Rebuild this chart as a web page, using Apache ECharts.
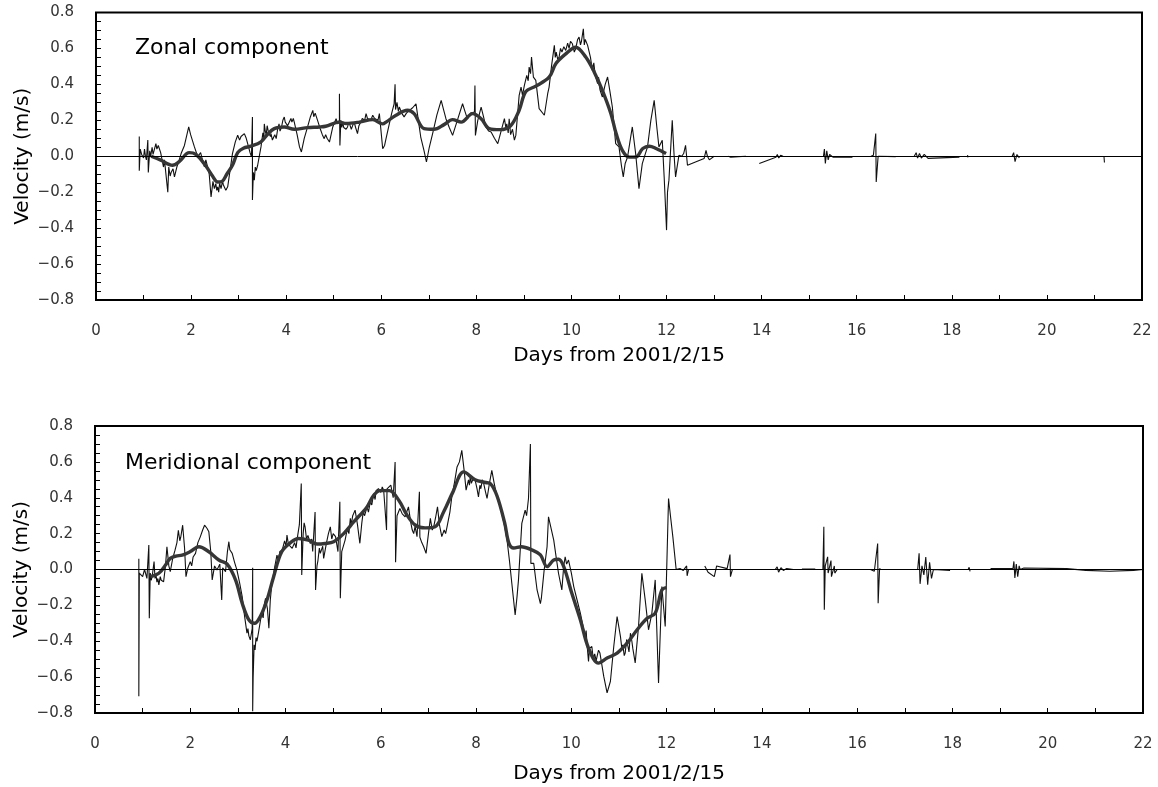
<!DOCTYPE html>
<html>
<head>
<meta charset="utf-8">
<title>Drifter velocity components</title>
<script src="https://cdn.jsdelivr.net/npm/echarts@6/dist/echarts.min.js"></script>
<style>
  html, body { margin: 0; padding: 0; background: #fff; }
  #chart { width: 1158px; height: 787px; }
</style>
</head>
<body>
<div id="chart"></div>
<script>
// Panel labels and axis titles
const panelTitles = ['Zonal component', 'Meridional component'];
const xAxisTitle = 'Days from 2001/2/15';
const yAxisTitle = 'Velocity (m/s)';

// Zonal velocity, raw record [day, m/s]; null marks a gap in the record
const zonalRaw = [
  [0.91,0.11],[0.91,-0.08],[0.93,0.04],[0.96,0.01],[0.98,0.02],[1.00,-0.01],[1.02,0.04],[1.04,0.0],[1.06,-0.02],[1.09,0.09],[1.10,-0.09],
  [1.13,0.03],[1.15,0.0],[1.18,0.05],[1.20,0.01],[1.22,0.02],[1.26,0.07],[1.28,0.04],[1.31,0.06],[1.36,0.02],[1.39,-0.02],[1.42,-0.06],[1.44,-0.02],[1.46,-0.03],
  [1.51,-0.20],[1.53,-0.06],[1.56,-0.11],[1.58,-0.09],[1.62,-0.07],[1.65,-0.115],[1.70,-0.06],[1.74,-0.03],[1.79,0.015],[1.86,0.06],
  [1.95,0.163],[1.99,0.12],[2.07,0.052],[2.14,-0.003],[2.20,0.02],[2.24,-0.02],[2.28,-0.059],[2.31,-0.02],[2.34,-0.03],[2.38,-0.096],
  [2.42,-0.226],[2.46,-0.14],[2.49,-0.18],[2.52,-0.152],[2.54,-0.19],[2.56,-0.17],[2.58,-0.20],[2.60,-0.15],[2.63,-0.18],[2.66,-0.14],[2.68,-0.16],[2.71,-0.15],[2.73,-0.189],
  [2.77,-0.17],[2.80,-0.115],[2.87,0.015],[2.93,0.08],[2.98,0.117],[3.02,0.09],[3.05,0.11],[3.09,0.12],[3.12,0.126],[3.16,0.10],
  [3.19,0.07],[3.24,0.02],[3.27,-0.003],[3.29,0.218],[3.29,-0.244],[3.31,-0.09],[3.33,-0.133],[3.35,-0.06],[3.37,-0.08],
  [3.40,-0.05],[3.47,0.052],[3.51,0.13],[3.53,0.10],[3.54,0.18],[3.56,0.14],[3.58,0.12],[3.60,0.17],[3.61,0.163],[3.63,0.13],
  [3.65,0.14],[3.67,0.11],[3.68,0.126],[3.71,0.09],[3.73,0.10],[3.76,0.12],[3.79,0.098],[3.82,0.15],[3.85,0.18],[3.87,0.14],
  [3.90,0.16],[3.93,0.20],[3.96,0.218],[3.98,0.19],[4.00,0.20],[4.03,0.17],[4.07,0.18],[4.10,0.21],[4.12,0.19],[4.15,0.21],[4.17,0.19],
  [4.23,0.12],[4.28,0.052],[4.32,0.024],[4.38,0.10],[4.45,0.163],[4.51,0.22],[4.56,0.255],[4.58,0.22],[4.61,0.24],
  [4.66,0.20],[4.72,0.15],[4.76,0.12],[4.80,0.098],[4.83,0.12],[4.86,0.10],[4.91,0.079],[4.98,0.163],[5.02,0.19],[5.05,0.209],[5.08,0.18],[5.12,0.20],
  [5.12,0.348],[5.13,0.06],[5.15,0.20],[5.17,0.16],[5.19,0.19],[5.21,0.16],[5.24,0.17],[5.26,0.15],[5.29,0.163],[5.32,0.19],[5.35,0.18],[5.37,0.15],[5.40,0.172],[5.43,0.19],[5.46,0.16],
  [5.50,0.126],[5.53,0.17],[5.57,0.19],[5.60,0.21],[5.62,0.22],[5.65,0.20],[5.68,0.237],[5.71,0.21],[5.75,0.22],[5.78,0.20],[5.82,0.228],[5.86,0.21],[5.89,0.22],[5.93,0.20],[5.96,0.237],
  [6.03,0.042],[6.07,0.06],[6.10,0.098],[6.17,0.181],[6.22,0.24],[6.27,0.292],[6.29,0.40],[6.30,0.26],
  [6.33,0.30],[6.36,0.25],[6.38,0.274],[6.43,0.24],[6.48,0.219],[6.53,0.24],[6.59,0.255],[6.66,0.27],[6.73,0.292],[6.78,0.20],
  [6.83,0.107],[6.90,0.03],[6.95,-0.032],[7.01,0.05],[7.08,0.126],[7.17,0.23],[7.26,0.311],[7.31,0.26],
  [7.36,0.209],[7.43,0.16],[7.50,0.116],[7.60,0.20],[7.71,0.292],[7.76,0.25],[7.81,0.209],[7.88,0.24],
  [7.96,0.246],[7.97,0.394],[7.98,0.116],[8.03,0.20],[8.10,0.274],[8.15,0.22],[8.20,0.163],[8.26,0.14],
  [8.31,0.135],[8.38,0.10],[8.45,0.07],[8.52,0.14],[8.59,0.209],[8.62,0.16],[8.64,0.18],[8.67,0.13],[8.69,0.209],[8.72,0.12],[8.76,0.15],
  [8.80,0.09],[8.83,0.116],[8.90,0.339],[8.94,0.385],[8.97,0.34],[9.01,0.394],[9.06,0.45],[9.09,0.42],[9.11,0.496],[9.14,0.46],[9.16,0.552],[9.20,0.44],
  [9.25,0.422],[9.32,0.265],[9.36,0.274],[9.43,0.228],[9.46,0.228],[9.50,0.348],[9.53,0.385],[9.58,0.50],
  [9.64,0.617],[9.66,0.55],[9.68,0.58],[9.71,0.54],[9.74,0.552],[9.77,0.60],[9.80,0.58],[9.84,0.61],[9.88,0.589],[9.92,0.63],[9.95,0.60],[9.98,0.64],[10.02,0.626],[10.06,0.58],[10.09,0.60],
  [10.13,0.65],[10.16,0.663],[10.19,0.62],[10.21,0.64],[10.25,0.709],[10.27,0.62],[10.29,0.65],[10.34,0.617],[10.40,0.55],[10.44,0.478],[10.47,0.52],[10.50,0.45],
  [10.55,0.404],[10.57,0.44],[10.60,0.37],[10.65,0.33],[10.71,0.40],[10.76,0.441],[10.81,0.36],[10.86,0.274],[10.93,0.07],
  [11.00,0.052],[11.05,-0.05],[11.09,-0.115],[11.13,-0.04],[11.18,-0.004],[11.23,0.08],[11.28,0.163],[11.35,0.015],
  [11.42,-0.18],[11.49,-0.041],[11.55,0.01],[11.60,0.052],[11.67,0.20],[11.74,0.311],[11.80,0.15],[11.84,0.052],
  [11.91,0.089],[11.95,-0.115],[12.00,-0.411],[12.02,-0.20],[12.05,-0.133],[12.12,0.20],[12.16,0.0],[12.19,-0.115],
  [12.26,0.005],[12.32,0.0],[12.36,0.015],[12.40,0.061],[12.44,-0.05],[12.46,-0.054],[12.79,-0.013],[12.83,0.033],
  [12.86,0.0],[12.90,-0.02],[13.00,0.0],[13.15,null],
  [13.30,0.0],[13.32,0.006],[13.35,-0.005],[13.67,0.0],[13.80,null],
  [13.95,-0.04],[14.30,-0.005],[14.33,0.01],[14.36,-0.01],[14.40,0.005],[14.45,0.0],[14.90,null],
  [15.30,0.0],[15.32,0.04],[15.34,-0.04],[15.37,0.03],[15.40,-0.02],[15.43,0.01],[15.50,-0.005],[15.91,-0.005],[16.10,null],
  [16.30,0.0],[16.35,0.005],[16.40,0.126],[16.41,-0.143],[16.45,0.0],[16.82,-0.002],[17.00,null],
  [17.21,0.0],[17.25,0.02],[17.28,-0.01],[17.32,0.015],[17.36,-0.01],[17.42,0.01],[17.50,-0.012],[18.16,-0.005],[18.25,null],
  [18.33,0.006],[18.34,-0.006],[18.80,null],
  [19.27,0.0],[19.30,0.02],[19.33,-0.03],[19.37,0.01],[19.42,-0.01],[20.00,null],
  [21.20,0.0],[21.21,-0.035]
];

// Zonal velocity, low-pass filtered [day, m/s]
const zonalFiltered = [
  [1.16,0.0],[1.35,-0.02],[1.61,-0.05],[1.75,-0.03],[1.96,0.02],[2.10,0.01],[2.30,-0.05],[2.45,-0.11],
  [2.56,-0.143],[2.65,-0.14],[2.75,-0.10],[2.87,-0.05],[2.98,0.02],[3.10,0.045],[3.26,0.056],[3.47,0.08],
  [3.60,0.12],[3.75,0.154],[3.96,0.163],[4.17,0.15],[4.45,0.159],[4.70,0.163],[4.83,0.167],[5.12,0.19],
  [5.26,0.182],[5.54,0.19],[5.82,0.204],[6.03,0.18],[6.10,0.19],[6.31,0.228],[6.55,0.256],[6.69,0.237],
  [6.90,0.154],[7.11,0.15],[7.32,0.176],[7.50,0.204],[7.68,0.19],[7.92,0.237],[8.10,0.209],[8.27,0.154],
  [8.50,0.148],[8.72,0.17],[8.90,0.256],[9.04,0.36],[9.25,0.39],[9.53,0.44],[9.67,0.515],[9.88,0.57],
  [10.09,0.607],[10.30,0.552],[10.48,0.468],[10.65,0.367],[10.83,0.237],[10.94,0.126],[11.07,0.033],[11.22,-0.005],
  [11.36,-0.004],[11.50,0.043],[11.64,0.056],[11.78,0.043],[11.99,0.015]
];

// Meridional velocity, raw record [day, m/s]; null marks a gap in the record
const meridionalRaw = [
  [0.92,0.06],[0.92,-0.707],[0.93,-0.02],[0.97,-0.01],[1.00,-0.04],[1.02,-0.03],[1.04,0.0],[1.06,-0.01],[1.09,-0.05],[1.13,0.136],[1.14,-0.272],
  [1.16,-0.02],[1.18,-0.06],[1.20,-0.04],[1.24,0.044],[1.26,-0.05],[1.28,-0.03],[1.30,-0.07],[1.32,-0.05],[1.34,-0.086],[1.37,-0.04],[1.39,-0.06],[1.44,-0.068],
  [1.48,0.02],[1.51,0.127],[1.55,0.02],[1.58,-0.012],[1.63,0.06],[1.68,0.108],[1.72,0.15],[1.75,0.219],[1.78,0.16],[1.80,0.18],
  [1.84,0.247],[1.88,0.12],[1.91,-0.04],[1.95,0.01],[2.00,0.044],[2.03,0.02],[2.06,0.07],[2.11,0.09],[2.16,0.15],
  [2.21,0.182],[2.26,0.22],[2.30,0.247],[2.35,0.23],[2.39,0.21],[2.43,0.10],[2.46,-0.058],[2.51,0.02],
  [2.56,-0.003],[2.62,0.03],[2.66,-0.17],[2.68,0.01],[2.74,-0.012],[2.78,0.10],[2.81,0.155],[2.83,0.11],[2.85,0.12],
  [2.88,0.09],[2.93,0.04],[2.98,-0.003],[3.04,-0.08],[3.09,-0.151],[3.14,-0.26],[3.19,-0.355],[3.21,-0.33],[3.23,-0.37],
  [3.26,-0.392],[3.30,-0.33],[3.31,0.01],[3.31,-0.79],[3.32,-0.60],[3.34,-0.42],[3.36,-0.448],[3.38,-0.38],[3.40,-0.40],[3.43,-0.355],
  [3.47,-0.29],[3.50,-0.244],[3.53,-0.27],[3.55,-0.20],[3.58,-0.161],[3.62,-0.22],[3.65,-0.327],[3.68,-0.17],[3.71,-0.086],
  [3.77,0.01],[3.82,0.08],[3.85,0.05],[3.88,0.10],[3.93,0.108],[3.98,0.16],[4.01,0.13],[4.03,0.192],[4.06,0.14],[4.09,0.15],[4.14,0.118],
  [4.19,0.15],[4.22,0.12],[4.24,0.164],[4.29,0.25],[4.33,0.479],[4.34,-0.031],[4.37,0.20],[4.39,0.26],[4.41,0.238],[4.44,0.17],[4.47,0.19],
  [4.52,0.145],[4.55,0.17],[4.57,0.10],[4.62,0.321],[4.63,-0.114],[4.66,0.02],[4.68,0.05],[4.71,0.12],[4.73,0.09],[4.78,0.13],[4.80,0.062],
  [4.86,0.15],[4.90,0.20],[4.94,0.238],[4.97,0.17],[5.00,0.20],[5.05,0.183],[5.10,0.10],[5.14,0.377],[5.15,-0.16],[5.18,0.10],
  [5.25,0.164],[5.30,0.23],[5.33,0.20],[5.36,0.285],[5.38,0.25],[5.41,0.30],[5.46,0.331],[5.51,0.25],[5.56,0.146],[5.60,0.257],
  [5.63,0.32],[5.66,0.30],[5.71,0.349],[5.74,0.32],[5.78,0.38],[5.81,0.36],[5.85,0.423],[5.88,0.39],[5.90,0.44],[5.95,0.451],[6.00,0.43],[6.03,0.46],[6.06,0.442],
  [6.12,0.22],[6.13,0.45],[6.16,0.451],[6.21,0.47],[6.26,0.40],[6.30,0.599],[6.31,0.04],[6.34,0.30],
  [6.40,0.34],[6.45,0.31],[6.51,0.294],[6.58,0.349],[6.63,0.26],[6.66,0.22],[6.69,0.20],[6.72,0.24],[6.76,0.183],[6.81,0.433],
  [6.82,0.18],[6.86,0.15],[6.90,0.127],[6.95,0.09],[7.00,0.20],[7.04,0.285],[7.08,0.22],[7.11,0.238],[7.15,0.29],[7.19,0.349],
  [7.23,0.25],[7.28,0.183],[7.33,0.22],[7.36,0.20],[7.39,0.238],[7.45,0.32],[7.49,0.405],[7.55,0.49],[7.60,0.572],
  [7.65,0.60],[7.70,0.664],[7.75,0.55],[7.79,0.442],[7.84,0.50],[7.86,0.47],[7.88,0.525],[7.90,0.48],[7.93,0.50],[7.98,0.498],
  [8.02,0.45],[8.05,0.405],[8.08,0.47],[8.10,0.45],[8.13,0.50],[8.16,0.479],[8.20,0.43],[8.23,0.396],[8.28,0.48],[8.33,0.553],[8.38,0.48],
  [8.44,0.405],[8.49,0.36],[8.54,0.312],[8.60,0.24],[8.65,0.164],[8.70,0.05],[8.75,-0.077],[8.82,-0.253],
  [8.86,-0.15],[8.89,-0.058],[8.96,0.257],[9.03,0.331],[9.06,0.30],[9.10,0.396],[9.14,0.70],[9.15,0.034],[9.21,0.034],
  [9.28,-0.114],[9.35,-0.19],[9.37,-0.16],[9.40,-0.08],[9.43,0.0],[9.49,0.127],[9.52,0.294],[9.56,0.303],[9.63,0.164],
  [9.68,0.07],[9.73,-0.021],[9.80,-0.114],[9.84,0.02],[9.87,0.071],[9.90,0.03],[9.94,0.053],[10.00,-0.02],[10.05,-0.095],
  [10.12,-0.17],[10.19,-0.244],[10.24,-0.31],[10.29,-0.373],[10.31,-0.34],[10.33,-0.42],[10.36,-0.512],[10.38,-0.44],[10.40,-0.45],[10.43,-0.429],[10.46,-0.50],[10.49,-0.47],
  [10.52,-0.51],[10.54,-0.484],[10.57,-0.45],[10.60,-0.466],[10.68,-0.596],[10.75,-0.688],[10.82,-0.623],[10.89,-0.429],[10.96,-0.262],[11.03,-0.373],
  [11.06,-0.44],[11.08,-0.42],[11.11,-0.48],[11.13,-0.466],[11.16,-0.39],[11.19,-0.40],[11.21,-0.46],[11.24,-0.355],[11.27,-0.40],[11.29,-0.44],[11.34,-0.521],[11.41,-0.318],[11.48,-0.021],
  [11.55,-0.169],[11.62,-0.336],[11.69,-0.244],[11.76,-0.058],[11.83,-0.633],[11.90,-0.095],[11.97,-0.318],[12.04,0.396],
  [12.08,0.30],[12.13,0.183],[12.20,0.0],[12.28,0.005],[12.35,-0.005],[12.42,0.02],[12.43,-0.035],[12.46,0.0],
  [12.60,0.0],[12.70,null],
  [12.80,0.02],[12.87,-0.015],[13.00,-0.04],[13.05,0.02],[13.27,0.005],[13.33,0.083],[13.34,-0.04],[13.38,0.0],[13.50,null],
  [13.65,0.0],[13.93,0.0],[14.10,null],
  [14.28,0.0],[14.32,0.015],[14.35,-0.015],[14.40,0.01],[14.45,-0.005],[14.52,0.005],[14.66,0.0],[14.75,null],
  [14.84,0.002],[15.12,0.002],[15.20,null],
  [15.28,0.0],[15.30,0.238],[15.31,-0.225],[15.33,0.02],[15.38,0.071],[15.39,-0.02],[15.45,0.05],[15.46,-0.04],
  [15.52,0.02],[15.53,-0.02],[15.58,0.0],[15.90,null],
  [16.28,0.0],[16.32,0.01],[16.36,-0.01],[16.40,0.0],[16.43,0.145],[16.44,-0.188],[16.47,0.005],[16.50,0.0],[16.90,null],
  [17.27,0.0],[17.30,0.09],[17.32,-0.08],[17.36,0.02],[17.40,-0.03],[17.44,0.07],[17.48,-0.085],[17.52,0.04],
  [17.56,-0.05],[17.60,0.0],[17.62,-0.005],[17.95,-0.005],[18.15,null],
  [18.33,0.0],[18.35,0.012],[18.37,-0.01],[18.60,null],
  [18.80,0.005],[19.27,0.005],[19.29,0.045],[19.31,-0.047],[19.34,0.03],[19.37,-0.04],[19.40,0.02],[19.42,0.0],
  [19.50,0.008],[20.40,0.005],[20.80,-0.005],[21.30,-0.01],[21.80,-0.005],[22.00,0.0]
];

// Meridional velocity, low-pass filtered [day, m/s]
const meridionalFiltered = [
  [1.16,-0.04],[1.34,-0.021],[1.48,0.025],[1.58,0.062],[1.70,0.075],[1.83,0.08],[2.00,0.10],[2.18,0.127],
  [2.39,0.099],[2.60,0.053],[2.77,0.031],[2.95,-0.058],[3.09,-0.188],[3.23,-0.281],[3.35,-0.30],[3.47,-0.262],
  [3.61,-0.17],[3.75,-0.04],[3.92,0.099],[4.13,0.155],[4.27,0.173],[4.48,0.164],[4.66,0.142],[4.83,0.145],
  [5.01,0.155],[5.22,0.20],[5.43,0.265],[5.71,0.349],[5.85,0.414],[5.99,0.44],[6.18,0.44],[6.38,0.385],
  [6.55,0.303],[6.72,0.248],[6.93,0.232],[7.14,0.238],[7.32,0.322],[7.51,0.43],[7.74,0.544],[7.98,0.50],
  [8.20,0.485],[8.30,0.479],[8.44,0.41],[8.60,0.26],[8.69,0.146],[8.79,0.12],[8.95,0.127],[9.18,0.108],
  [9.35,0.081],[9.49,0.016],[9.63,0.053],[9.73,0.057],[9.84,0.016],[10.01,-0.133],[10.19,-0.281],[10.36,-0.438],
  [10.57,-0.522],[10.75,-0.494],[10.96,-0.466],[11.17,-0.411],[11.38,-0.336],[11.59,-0.272],[11.76,-0.244],[11.90,-0.114],
  [12.00,-0.101]
];

const FONT = 'DejaVu Sans';
const fmtVelocity = v => (v < 0 ? '\u2212' + Math.abs(v).toFixed(1) : v.toFixed(1));

const grids = [
  { left: 96, top: 12.5, width: 1046, height: 287.5 },
  { left: 95, top: 426, width: 1048, height: 287 }
];
const xNameGaps = [46, 51];

function xAxisFor(gridIndex) {
  return {
    type: 'value', gridIndex, min: 0, max: 22, interval: 2,
    name: xAxisTitle, nameLocation: 'middle', nameGap: xNameGaps[gridIndex],
    nameMoveOverlap: false,
    nameTextStyle: { fontFamily: FONT, fontSize: 20, color: '#000' },
    axisLine: { show: false, onZero: false },
    axisTick: { show: true, inside: true, length: 5, lineStyle: { color: '#000', width: 1 } },
    minorTick: { show: true, splitNumber: 2, length: 5, lineStyle: { color: '#000', width: 1 } },
    axisLabel: { fontFamily: FONT, fontSize: 15, color: '#333', margin: 24 },
    splitLine: { show: false }
  };
}

function yAxisFor(gridIndex) {
  return {
    type: 'value', gridIndex, min: -0.8, max: 0.8, interval: 0.2,
    name: yAxisTitle, nameLocation: 'middle', nameGap: 63,
    nameMoveOverlap: false,
    nameTextStyle: { fontFamily: FONT, fontSize: 20, color: '#000' },
    axisLine: { show: false, onZero: false },
    axisTick: { show: true, inside: true, length: 5, lineStyle: { color: '#000', width: 1 } },
    minorTick: { show: true, splitNumber: 4, length: 5, lineStyle: { color: '#000', width: 1 } },
    axisLabel: { fontFamily: FONT, fontSize: 15, color: '#333', margin: 22, formatter: fmtVelocity },
    splitLine: { show: false }
  };
}

function rawSeries(idx, data) {
  return {
    type: 'line', xAxisIndex: idx, yAxisIndex: idx, data,
    showSymbol: false, symbol: 'none', connectNulls: false, animation: false,
    lineStyle: { color: '#111', width: 1.1 },
    markLine: {
      silent: true, symbol: 'none', label: { show: false },
      lineStyle: { color: '#000', width: 1, type: 'solid' },
      data: [{ yAxis: 0 }]
    },
    z: 2
  };
}

function filteredSeries(idx, data) {
  return {
    type: 'line', xAxisIndex: idx, yAxisIndex: idx, data,
    showSymbol: false, symbol: 'none', smooth: 0.35, animation: false,
    lineStyle: { color: '#363636', width: 3.4 },
    z: 3
  };
}

const chart = echarts.init(document.getElementById('chart'), null, { renderer: 'canvas' });
chart.setOption({
  backgroundColor: '#fff',
  animation: false,
  title: [
    { text: panelTitles[0], left: 135, top: 37, padding: 0,
      textStyle: { fontFamily: FONT, fontSize: 22, fontWeight: 'normal', color: '#000' } },
    { text: panelTitles[1], left: 125, top: 452, padding: 0,
      textStyle: { fontFamily: FONT, fontSize: 22, fontWeight: 'normal', color: '#000' } }
  ],
  grid: grids.map(g => Object.assign({ show: true, borderColor: '#000', borderWidth: 2, backgroundColor: 'transparent' }, g)),
  xAxis: [xAxisFor(0), xAxisFor(1)],
  yAxis: [yAxisFor(0), yAxisFor(1)],
  series: [
    rawSeries(0, zonalRaw),
    filteredSeries(0, zonalFiltered),
    rawSeries(1, meridionalRaw),
    filteredSeries(1, meridionalFiltered)
  ]
});
</script>
</body>
</html>
